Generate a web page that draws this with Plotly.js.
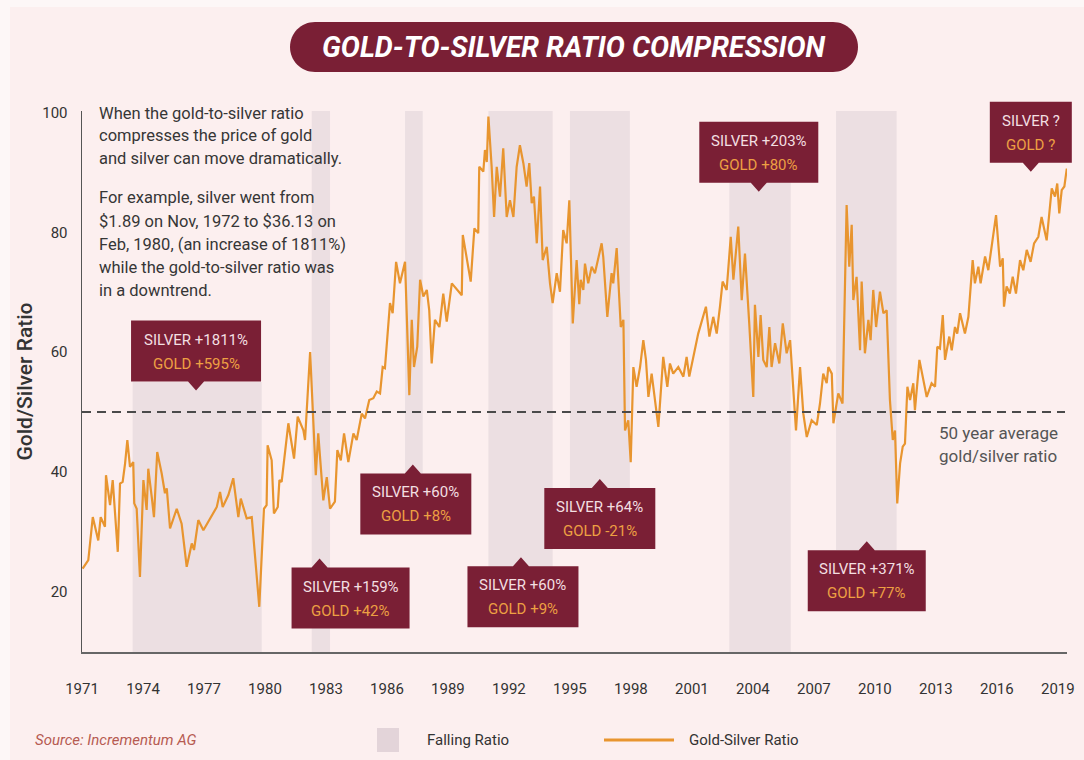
<!DOCTYPE html>
<html>
<head>
<meta charset="utf-8">
<script src="https://cdn.plot.ly/plotly-3.0.1.min.js"></script>
<style>
  html, body { margin: 0; padding: 0; background: #fcefef; }
  #chart { width: 1084px; height: 760px; }
</style>
</head>
<body>
<div id="chart"></div>
<script>
// Gold/silver ratio (decimal year, ratio)
const YEARS = [
  1971.03, 1971.31, 1971.53, 1971.80, 1971.92, 1972.13, 1972.18, 1972.38, 1972.51, 1972.67,
  1972.76, 1972.87, 1973.00, 1973.12, 1973.23, 1973.36, 1973.52, 1973.57, 1973.69, 1973.85,
  1974.02, 1974.18, 1974.26, 1974.43, 1974.54, 1974.70, 1974.92, 1975.08, 1975.17, 1975.33,
  1975.66, 1975.90, 1976.15, 1976.40, 1976.51, 1976.72, 1976.97, 1977.63, 1977.79, 1977.92,
  1978.20, 1978.44, 1978.69, 1978.81, 1979.10, 1979.35, 1979.72, 1979.95, 1980.08, 1980.13,
  1980.33, 1980.44, 1980.63, 1980.71, 1980.82, 1981.15, 1981.43, 1981.61, 1981.89, 1981.97,
  1982.22, 1982.50, 1982.62, 1982.87, 1983.04, 1983.20, 1983.44, 1983.56, 1983.73, 1983.89,
  1984.10, 1984.35, 1984.51, 1984.76, 1984.92, 1985.13, 1985.33, 1985.50, 1985.66, 1985.79,
  1985.90, 1986.15, 1986.28, 1986.45, 1986.64, 1986.89, 1987.10, 1987.22, 1987.33, 1987.49,
  1987.63, 1987.79, 1987.96, 1988.08, 1988.20, 1988.36, 1988.58, 1988.77, 1988.94, 1989.19,
  1989.68, 1989.73, 1989.92, 1990.12, 1990.30, 1990.49, 1990.54, 1990.74, 1990.82, 1990.91,
  1990.99, 1991.15, 1991.27, 1991.40, 1991.56, 1991.72, 1991.89, 1992.05, 1992.22, 1992.38,
  1992.54, 1992.71, 1992.87, 1993.00, 1993.12, 1993.23, 1993.37, 1993.53, 1993.66, 1993.86,
  1994.02, 1994.15, 1994.35, 1994.51, 1994.67, 1994.84, 1994.97, 1995.14, 1995.33, 1995.46,
  1995.53, 1995.66, 1995.74, 1995.90, 1996.07, 1996.23, 1996.56, 1996.64, 1996.84, 1997.05,
  1997.13, 1997.30, 1997.50, 1997.63, 1997.71, 1997.87, 1997.99, 1998.12, 1998.28, 1998.45,
  1998.61, 1998.74, 1998.86, 1999.02, 1999.35, 1999.59, 1999.79, 1999.92, 2000.08, 2000.33,
  2000.58, 2000.74, 2000.87, 2001.31, 2001.69, 2001.86, 2002.05, 2002.22, 2002.38, 2002.51,
  2002.71, 2002.91, 2003.04, 2003.28, 2003.45, 2003.61, 2003.82, 2004.02, 2004.10, 2004.27,
  2004.38, 2004.51, 2004.68, 2004.81, 2004.92, 2005.09, 2005.30, 2005.47, 2005.66, 2005.83,
  2006.12, 2006.32, 2006.48, 2006.65, 2006.89, 2007.14, 2007.30, 2007.46, 2007.63, 2007.71,
  2007.88, 2007.96, 2008.20, 2008.41, 2008.61, 2008.74, 2008.86, 2008.94, 2009.10, 2009.27,
  2009.35, 2009.51, 2009.68, 2009.79, 2009.92, 2010.06, 2010.25, 2010.42, 2010.58, 2010.74,
  2010.88, 2010.99, 2011.10, 2011.24, 2011.37, 2011.48, 2011.60, 2011.73, 2011.89, 2011.97,
  2012.19, 2012.38, 2012.55, 2012.79, 2012.96, 2013.07, 2013.20, 2013.34, 2013.45, 2013.66,
  2013.78, 2013.94, 2014.05, 2014.19, 2014.43, 2014.60, 2014.81, 2014.92, 2015.09, 2015.20,
  2015.42, 2015.58, 2015.75, 2015.96, 2016.16, 2016.29, 2016.35, 2016.48, 2016.64, 2016.78,
  2016.94, 2017.14, 2017.30, 2017.47, 2017.66, 2017.83, 2018.04, 2018.20, 2018.45, 2018.70,
  2018.86, 2018.97, 2019.07, 2019.19, 2019.32, 2019.44
];
const RATIO = [
  23.8, 25.2, 32.4, 28.5, 32.4, 30.8, 39.4, 34.4, 38.6, 31.3,
  26.6, 38.0, 38.3, 41.4, 45.3, 40.8, 41.6, 34.7, 33.8, 22.4,
  38.6, 33.6, 40.5, 35.8, 32.4, 43.3, 39.7, 36.4, 37.2, 30.5,
  33.8, 31.3, 24.1, 28.0, 26.9, 31.9, 30.2, 34.1, 36.6, 34.1,
  36.1, 38.9, 32.4, 35.5, 32.2, 32.4, 17.4, 33.8, 34.4, 44.4,
  41.9, 33.0, 34.1, 38.6, 38.3, 48.1, 42.2, 49.2, 46.9, 45.3,
  60.0, 39.4, 46.4, 35.2, 39.1, 33.8, 35.0, 43.6, 41.9, 46.4,
  41.6, 46.4, 45.3, 49.7, 48.9, 52.0, 52.3, 53.4, 53.1, 57.5,
  57.3, 68.2, 66.5, 75.1, 71.5, 75.1, 52.8, 65.4, 57.5, 60.9,
  72.1, 69.3, 70.4, 67.0, 58.1, 65.4, 64.2, 69.8, 65.1, 71.5,
  69.5, 79.6, 76.0, 71.8, 80.7, 79.9, 91.0, 90.2, 93.8, 91.8,
  99.4, 91.0, 82.6, 91.0, 86.0, 94.1, 82.6, 85.4, 82.6, 91.0,
  94.6, 91.6, 87.7, 91.6, 84.9, 86.0, 78.2, 87.7, 75.4, 77.6,
  71.5, 68.2, 73.2, 70.1, 80.4, 78.2, 85.4, 64.8, 75.4, 68.0,
  72.1, 70.4, 74.8, 71.5, 74.3, 73.2, 78.2, 75.9, 65.9, 73.2,
  71.5, 77.4, 64.2, 65.4, 46.9, 48.6, 41.6, 57.5, 54.2, 57.5,
  62.0, 58.7, 52.5, 56.4, 47.5, 59.2, 54.2, 58.1, 56.4, 57.5,
  55.9, 59.2, 55.9, 63.1, 67.6, 62.6, 65.9, 63.1, 67.6, 71.8,
  70.4, 79.3, 72.1, 81.0, 68.7, 76.5, 64.8, 52.5, 67.9, 59.2,
  66.2, 58.7, 57.5, 64.2, 57.5, 61.5, 58.1, 64.8, 59.8, 62.0,
  46.9, 57.5, 49.7, 45.8, 48.6, 47.8, 51.4, 56.4, 54.8, 57.5,
  56.4, 48.1, 53.1, 51.4, 84.6, 74.3, 81.3, 68.7, 72.6, 60.3,
  71.8, 59.8, 65.4, 62.0, 70.4, 64.2, 70.1, 66.5, 67.0, 52.0,
  45.3, 46.9, 34.7, 41.4, 44.2, 44.7, 54.2, 52.0, 54.8, 50.3,
  58.7, 55.3, 52.5, 54.8, 54.2, 60.9, 60.6, 66.2, 58.7, 62.6,
  60.3, 64.2, 63.1, 66.5, 63.1, 65.9, 75.4, 71.5, 74.3, 71.5,
  76.0, 73.7, 77.6, 82.9, 74.3, 75.7, 67.6, 71.0, 69.8, 72.6,
  69.8, 75.4, 73.7, 77.1, 75.1, 78.2, 79.3, 82.6, 78.7, 87.4,
  86.0, 88.2, 83.2, 87.1, 87.7, 90.7
];

// Periods of falling ratio (shaded)
const FALL_START = [1973.49, 1982.30, 1986.89, 1990.99, 1995.00, 2002.84, 2008.09];
const FALL_END   = [1979.84, 1983.20, 1987.76, 1994.15, 1997.95, 2005.86, 2011.07];

const AVG_RATIO = 50;

// Callout labels
const BOX_SILVER = ['SILVER +1811%', 'SILVER +159%', 'SILVER +60%', 'SILVER +60%', 'SILVER +64%', 'SILVER +203%', 'SILVER +371%', 'SILVER ?'];
const BOX_GOLD   = ['GOLD +595%', 'GOLD +42%', 'GOLD +8%', 'GOLD +9%', 'GOLD -21%', 'GOLD +80%', 'GOLD +77%', 'GOLD ?'];

const NOTE_1 = ['When the gold-to-silver ratio', 'compresses the price of gold', 'and silver can move dramatically.'];
const NOTE_2 = ['For example, silver went from', '$1.89 on Nov, 1972 to $36.13 on', 'Feb, 1980, (an increase of 1811%)', 'while the gold-to-silver ratio was', 'in a downtrend.'];

// layout helpers
const W = 1084, H = 760;
const M = {l: 82, r: 17, t: 111, b: 108};
const X_RANGE = [1971, 2019.45];
const Y_RANGE = [9.84, 100.33];
const PW = W - M.l - M.r, PH = H - M.t - M.b;
const px = x => (x - M.l) / PW;            // page pixel -> paper x
const py = y => (H - M.b - y) / PH;        // page pixel -> paper y
const vx = v => (v - X_RANGE[0]) / (X_RANGE[1] - X_RANGE[0]);
const vy = v => (v - Y_RANGE[0]) / (Y_RANGE[1] - Y_RANGE[0]);

const FONT = 'Roboto, "Liberation Sans", sans-serif';
const MAROON = '#7a1f35';
const ORANGE = '#e8952f';
const SHADE = '#ecdfe2';
const SILVER_TXT = '#f3dfe1';
const GOLD_TXT = '#eda043';

// callout placement: centre (year, ratio), width px, pointer side, pointer offset px
const BOX_POS = [
  [1976.61, 60.17, 130, 'down', 0],
  [1984.21, 18.86, 118, 'up', -31],
  [1987.42, 34.60, 111, 'up', -3],
  [1992.69, 19.08, 111, 'up', -2],
  [1996.47, 32.16, 111, 'up', 0],
  [2004.29, 93.44, 119, 'down', 0],
  [2009.60, 21.76, 118, 'up', 0],
  [2017.67, 96.79, 82, 'down', 0]
];
// vertical extent of each shaded band (kept clear of the callouts)
const SHADE_Y = [
  [Y_RANGE[0], 55.0], [Y_RANGE[0], Y_RANGE[1]], [39.7, Y_RANGE[1]], [24.0, Y_RANGE[1]],
  [37.2, Y_RANGE[1]], [Y_RANGE[0], 88.4], [26.9, Y_RANGE[1]]
];

const shapes = [];
const annotations = [];

function label(x, y, text, font, extra) {
  annotations.push(Object.assign({xref: 'paper', yref: 'paper', x: x, y: y, text: text,
    showarrow: false, xanchor: 'center', yanchor: 'middle', font: font}, extra || {}));
}

// pale outer frame of the panel
shapes.push({type: 'rect', xref: 'paper', yref: 'paper', x0: px(0), x1: px(W), y0: py(0), y1: py(7),
  fillcolor: '#fdf7f7', line: {width: 0}, layer: 'below'});
shapes.push({type: 'rect', xref: 'paper', yref: 'paper', x0: px(0), x1: px(10), y0: py(0), y1: py(H),
  fillcolor: '#fdf7f7', line: {width: 0}, layer: 'below'});

FALL_START.forEach((s, i) => {
  shapes.push({type: 'rect', xref: 'x', yref: 'y', x0: s, x1: FALL_END[i],
    y0: SHADE_Y[i][0], y1: SHADE_Y[i][1], fillcolor: SHADE, line: {width: 0}, layer: 'below'});
});

shapes.push({type: 'line', xref: 'paper', yref: 'y', x0: 0, x1: px(1065), y0: AVG_RATIO, y1: AVG_RATIO,
  line: {color: '#4a4a4a', width: 2, dash: '9px,6px'}, layer: 'above'});

// callout boxes with pointer
BOX_POS.forEach((b, i) => {
  const [yr, val, bw, dir, o] = b;
  const w = bw / 2, h = 30.5;
  let path;
  if (dir === 'down') {
    path = `M${-w},${h} L${w},${h} L${w},${-h} L${o + 8},${-h} L${o},${-h - 9} L${o - 8},${-h} L${-w},${-h} Z`;
  } else {
    path = `M${-w},${-h} L${w},${-h} L${w},${h} L${o + 8},${h} L${o},${h + 9} L${o - 8},${h} L${-w},${h} Z`;
  }
  shapes.push({type: 'path', xref: 'paper', yref: 'paper', xsizemode: 'pixel', ysizemode: 'pixel',
    xanchor: vx(yr), yanchor: vy(val), path: path, fillcolor: MAROON, line: {width: 0}, layer: 'above'});
  label(vx(yr), vy(val), BOX_SILVER[i], {family: FONT, size: 15, color: SILVER_TXT}, {yshift: 11.5});
  label(vx(yr), vy(val), BOX_GOLD[i], {family: FONT, size: 15, color: GOLD_TXT}, {yshift: -12.5});
});

// title pill
shapes.push({type: 'path', xref: 'paper', yref: 'paper', xsizemode: 'pixel', ysizemode: 'pixel',
  xanchor: px(574), yanchor: py(47),
  path: 'M-259,25 L259,25 C273,25 284,14 284,0 C284,-14 273,-25 259,-25 L-259,-25 C-273,-25 -284,-14 -284,0 C-284,14 -273,25 -259,25 Z',
  fillcolor: MAROON, line: {width: 0}});
label(px(574), py(47), 'GOLD-TO-SILVER RATIO COMPRESSION',
  {family: FONT, size: 28.5, color: '#ffffff', weight: 'bold', style: 'italic'});

// explanatory note, one annotation per line
const NOTE_Y1 = [113, 135.5, 158.5];
const NOTE_Y2 = [197.5, 221, 244, 267, 290];
const noteFont = {family: FONT, size: 16.5, color: '#363636'};
NOTE_1.forEach((t, i) => label(px(97), py(NOTE_Y1[i]), t, noteFont, {xanchor: 'left'}));
NOTE_2.forEach((t, i) => label(px(97), py(NOTE_Y2[i]), t, noteFont, {xanchor: 'left'}));

// 50 year average label
['50 year average', 'gold/silver ratio'].forEach((t, i) =>
  label(px(998), py([433, 456][i]), t, {family: FONT, size: 17, color: '#555555'}));

// footer: source and legend
label(px(33), py(740), 'Source: Incrementum AG', {family: FONT, size: 15, color: '#b65b52', style: 'italic'}, {xanchor: 'left'});
shapes.push({type: 'rect', xref: 'paper', yref: 'paper', x0: px(377), x1: px(399), y0: py(752), y1: py(728),
  fillcolor: '#e3d4d9', line: {width: 0}});
label(px(425), py(740), 'Falling Ratio', {family: FONT, size: 15, color: '#333333'}, {xanchor: 'left'});
shapes.push({type: 'line', xref: 'paper', yref: 'paper', x0: px(604), x1: px(674), y0: py(740), y1: py(740),
  line: {color: ORANGE, width: 3}});
label(px(687), py(740), 'Gold-Silver Ratio', {family: FONT, size: 15, color: '#333333'}, {xanchor: 'left'});

const trace = {
  x: YEARS,
  y: RATIO,
  type: 'scatter',
  mode: 'lines',
  name: 'Gold-Silver Ratio',
  line: {color: ORANGE, width: 2.2},
  hoverinfo: 'skip'
};

const layout = {
  width: W,
  height: H,
  margin: M,
  paper_bgcolor: '#fcefef',
  plot_bgcolor: 'rgba(0,0,0,0)',
  showlegend: false,
  font: {family: FONT, color: '#333333'},
  xaxis: {
    range: X_RANGE,
    tick0: 1971,
    dtick: 3,
    showgrid: false,
    zeroline: false,
    showline: true,
    linecolor: '#666666',
    linewidth: 2,
    ticks: '',
    ticklabelstandoff: 22,
    tickfont: {family: FONT, size: 15, color: '#333333'},
    automargin: false
  },
  yaxis: {
    range: Y_RANGE,
    tick0: 0,
    dtick: 20,
    showgrid: false,
    zeroline: false,
    showline: true,
    linecolor: '#555555',
    linewidth: 1.5,
    ticks: '',
    ticklabelstandoff: 10,
    tickfont: {family: FONT, size: 15, color: '#333333'},
    title: {text: 'Gold/Silver Ratio', standoff: 4, font: {family: FONT, size: 21, color: '#333333', weight: 500}},
    automargin: false
  },
  shapes: shapes,
  annotations: annotations
};

Plotly.newPlot('chart', [trace], layout, {displayModeBar: false, staticPlot: true});
</script>
</body>
</html>
